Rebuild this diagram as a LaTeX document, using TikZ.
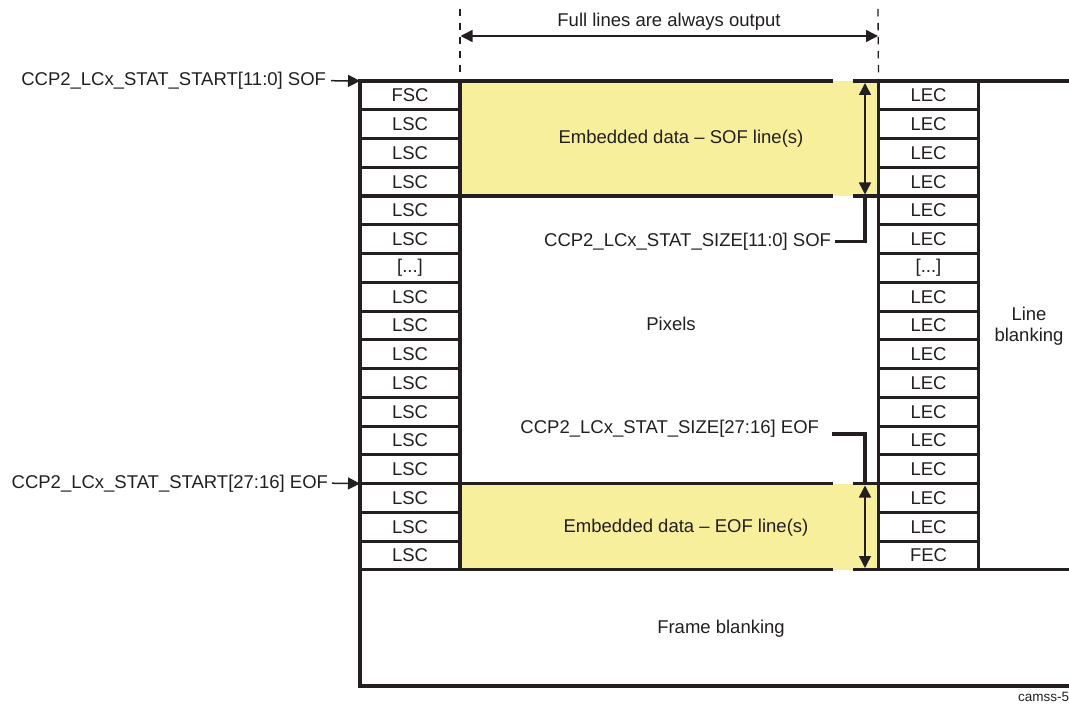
\documentclass[tikz,border=0pt]{standalone}
\usepackage{fontspec}
\setmainfont{Liberation Sans}
\usetikzlibrary{arrows.meta}
\definecolor{ink}{HTML}{231F20}
\definecolor{emb}{RGB}{248,239,156}
\newcommand\dfont{\fontsize{18.5}{21.7}\selectfont}
\newcommand\elide{[...]}
\begin{document}
\begin{tikzpicture}[x=1pt,y=-1pt,
  every node/.style={text=ink, font=\dfont, inner sep=0pt, outer sep=0pt},
  cell/.style={draw=ink, line width=3.1pt, minimum width=100pt, minimum height=28.76pt},
  bar/.style={draw=ink, line width=3.1pt},
  thinline/.style={draw=ink, line width=1.5pt},
  onehead/.style={-{Triangle[length=12pt,width=12pt]}},
  twohead/.style={{Triangle[length=12pt,width=12pt]}-{Triangle[length=12pt,width=12pt]}},
  guide/.style={draw=ink, line width=1.3pt, dash pattern=on 7.5pt off 6.5pt},
]
\useasboundingbox (0,0) rectangle (1069,711);

% embedded data regions
\node[fill=emb, minimum width=418pt, minimum height=115pt] (sofreg) at (669,138.5) {};
\node[fill=emb, minimum width=418pt, minimum height=86.3pt] (eofreg) at (669,526.8) {};

% left and right packet-code columns
\foreach[count=\i] \t in {FSC,LSC,LSC,LSC,LSC,LSC,\elide,LSC,LSC,LSC,LSC,LSC,LSC,LSC,LSC,LSC,LSC}
  \node[cell] (L\i) at (410,{81+(\i-0.5)*28.76}) {\t};
\foreach[count=\i] \t in {LEC,LEC,LEC,LEC,LEC,LEC,\elide,LEC,LEC,LEC,LEC,LEC,LEC,LEC,LEC,LEC,FEC}
  \node[cell] (R\i) at (928.5,{81+(\i-0.5)*28.76}) {\t};

% region borders
\draw[bar] (460,81) -- (833,81) (853,81) -- (1069,81);
\draw[bar] (460,196) -- (833,196) (853,196) -- (878,196);
\draw[bar] (460,483.6) -- (833,483.6) (853,483.6) -- (878,483.6);
\draw[bar] (360,569.9) -- (833,569.9) (853,569.9) -- (1069,569.9);
\draw[bar] (360,568.5) -- (360,686) -- (1069,686);

% texts
\node[anchor=base] (full) at (669,26.5) {Full lines are always output};
\node[anchor=base] (softxt) at (681,143.5) {Embedded data – SOF line(s)};
\node[anchor=base] (eoftxt) at (686,532.5) {Embedded data – EOF line(s)};
\node[anchor=base] (pix) at (671,331) {Pixels};
\node[anchor=base] (fb) at (721,633) {Frame blanking};
\node[align=center] (lb) at (1029,326.2) {Line\\blanking};
\node[anchor=base east] (ssof) at (326,85.5) {CCP2\_LCx\_STAT\_START[11:0] SOF};
\node[anchor=base east] (seof) at (328,488) {CCP2\_LCx\_STAT\_START[27:16] EOF};
\node[anchor=base east] (sizesof) at (831,246.5) {CCP2\_LCx\_STAT\_SIZE[11:0] SOF};
\node[anchor=base east] (sizeeof) at (819,434) {CCP2\_LCx\_STAT\_SIZE[27:16] EOF};
\node[anchor=base west, font=\fontsize{13.5}{16}\selectfont] (fig) at (1018,701) {camss-5};

% guides and arrows
\draw[guide] (460,9) -- (L1.north east);
\draw[guide] (878,9) -- (R1.north west);
\coordinate (fl) at (460.5,36);
\coordinate (fr) at (878,36);
\draw[thinline, twohead] (fl) -- (fr);

\draw[thinline, onehead] ([xshift=5pt]ssof.east) -- (L1.north west);
\draw[thinline, onehead] ([xshift=4pt]seof.east) -- (L15.north west);

\coordinate (sofa) at (865,83);
\coordinate (sofb) at (865,194.5);
\draw[thinline, twohead] (sofa) -- (sofb);
\draw[bar] (865,195) |- ([xshift=4pt]sizesof.east);

\coordinate (eofa) at (865,485.5);
\coordinate (eofb) at (865,568);
\draw[thinline, twohead] (eofa) -- (eofb);
\draw[bar] ([xshift=13pt]sizeeof.base east) -| (865,484.5);
\end{tikzpicture}
\end{document}
